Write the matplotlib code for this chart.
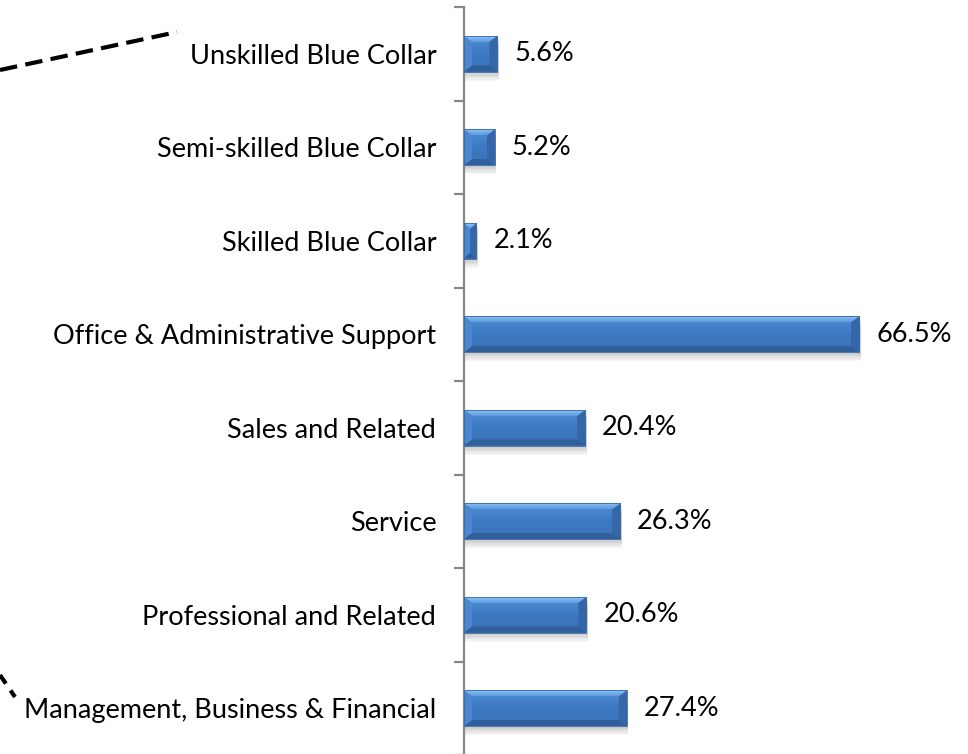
import matplotlib
matplotlib.use("Agg")
import matplotlib.pyplot as plt
import numpy as np
from matplotlib.patches import Polygon, Rectangle
from matplotlib.lines import Line2D
from matplotlib.colors import LinearSegmentedColormap

categories = [
    "Unskilled Blue Collar",
    "Semi-skilled Blue Collar",
    "Skilled Blue Collar",
    "Office & Administrative Support",
    "Sales and Related",
    "Service",
    "Professional and Related",
    "Management, Business & Financial",
]
values = [5.6, 5.2, 2.1, 66.5, 20.4, 26.3, 20.6, 27.4]
value_labels = ["5.6%", "5.2%", "2.1%", "66.5%", "20.4%", "26.3%", "20.6%", "27.4%"]

plt.rcParams["font.family"] = ["Lato", "DejaVu Sans"]

W, H, DPI = 968, 754, 100
FS = 19.5
fig = plt.figure(figsize=(W / DPI, H / DPI), dpi=DPI)
ax = fig.add_axes([464 / W, -1 / H, 420 / W, 748 / H])

n = len(categories)
ypos = np.arange(n)
ax.set_xlim(0, 70.7)
ax.set_ylim(n - 0.5, -0.5)

for s in ["top", "right", "bottom"]:
    ax.spines[s].set_visible(False)
ax.spines["left"].set_color("#878787")
ax.spines["left"].set_linewidth(1.6)
ax.set_xticks([])
ax.set_yticks(ypos)
ax.set_yticklabels(categories, fontsize=FS, color="#000000")
ax.tick_params(axis="y", which="major", length=0, pad=20)
ax.set_yticks(np.arange(n + 1) - 0.5, minor=True)
ax.tick_params(axis="y", which="minor", length=7, width=1.6, color="#878787", direction="out")

fig.canvas.draw()
# pixel -> data scale
p0 = ax.transData.transform((0, 0))
p1 = ax.transData.transform((1, 1))
px_x = abs(p1[0] - p0[0])
px_y = abs(p1[1] - p0[1])

bar_h = 0.38
face_cmap = LinearSegmentedColormap.from_list("face", ["#4f8ed6", "#3d79c2", "#3a72b8"])
top_cmap = LinearSegmentedColormap.from_list("topb", ["#8cc4f4", "#5d9be0"])
grad = np.linspace(0, 1, 64).reshape(-1, 1)

for y, v, lab in zip(ypos, values, value_labels):
    top = y - bar_h / 2
    bot = y + bar_h / 2
    bx = min(8 / px_x, v / 2)
    by = 6 / px_y
    # soft shadow under the bar
    for k in range(7):
        off = (1.5 + k * 1.3) / px_y
        ax.add_patch(Rectangle((0.15, top + off), v + 0.1, bar_h,
                               facecolor="#000000", alpha=0.03, lw=0, zorder=1))
    # face gradient
    im = ax.imshow(grad, cmap=face_cmap, aspect="auto",
                   extent=(0, v, bot, top), zorder=2, interpolation="bilinear")
    im.set_clip_path(Rectangle((0, top), v, bar_h, transform=ax.transData))
    # top bevel with its own gradient
    top_poly = Polygon([(0, top), (v, top), (v - bx, top + by), (bx, top + by)],
                       closed=True, transform=ax.transData)
    imt = ax.imshow(grad, cmap=top_cmap, aspect="auto",
                    extent=(0, v, top + by, top), zorder=3, interpolation="bilinear")
    imt.set_clip_path(top_poly)
    # bottom, left and right bevels
    ax.add_patch(Polygon([(0, bot), (v, bot), (v - bx, bot - by), (bx, bot - by)],
                         closed=True, facecolor="#315f9c", lw=0, zorder=3))
    ax.add_patch(Polygon([(0, top), (bx, top + by), (bx, bot - by), (0, bot)],
                         closed=True, facecolor="#4a87cf", lw=0, zorder=3))
    ax.add_patch(Polygon([(v, top), (v - bx, top + by), (v - bx, bot - by), (v, bot)],
                         closed=True, facecolor="#3566a8", lw=0, zorder=3))
    ax.add_patch(Rectangle((0, top), v, bar_h, facecolor="none",
                           edgecolor="#3a6aa8", lw=0.6, zorder=4))
    ax.annotate(lab, xy=(v, y), xytext=(17, 0), textcoords="offset pixels",
                ha="left", va="center", fontsize=FS, color="#000000", zorder=5)

# leader lines from the left margin
fig.add_artist(Line2D([0 / W, 177 / W], [1 - 70 / H, 1 - 32 / H], transform=fig.transFigure,
                      color="black", lw=3.0, linestyle=(0, (4.2, 2.0))))
fig.add_artist(Line2D([0 / W, 15 / W], [1 - 675 / H, 1 - 697 / H], transform=fig.transFigure,
                      color="black", lw=3.0, linestyle=(0, (2.5, 2.0))))

fig.savefig("out.png", dpi=DPI)
